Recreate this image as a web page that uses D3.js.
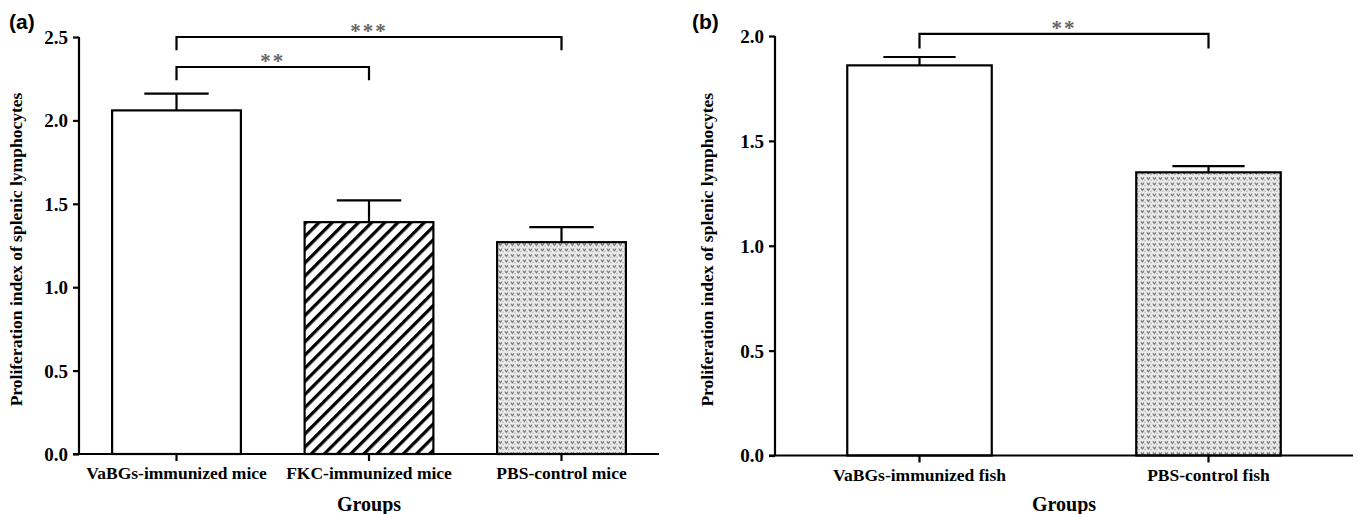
<!DOCTYPE html>
<html><head><meta charset="utf-8">
<script src="https://cdn.jsdelivr.net/npm/d3@7/dist/d3.min.js"></script>
<style>
body{margin:0;background:#fff;}
svg{display:block;}
</style></head>
<body>
<svg id="chart" width="1358" height="514"></svg>
<script>
// ---- data ----
const groupsA = ["VaBGs-immunized mice", "FKC-immunized mice", "PBS-control mice"];
const meansA  = [2.06, 1.39, 1.27];
const errorsA = [0.10, 0.13, 0.09];
const ticksA  = [0.0, 0.5, 1.0, 1.5, 2.0, 2.5];
const sigA    = [
  {from: 0, to: 2, level: 2.50, leg: 2.42, label: "***"},
  {from: 0, to: 1, level: 2.32, leg: 2.24, label: "**"}
];

const groupsB = ["VaBGs-immunized fish", "PBS-control fish"];
const meansB  = [1.86, 1.35];
const errorsB = [0.04, 0.03];
const ticksB  = [0.0, 0.5, 1.0, 1.5, 2.0];
const sigB    = [
  {from: 0, to: 1, level: 2.01, leg: 1.94, label: "**"}
];

const yTitle = "Proliferation index of splenic lymphocytes";
const xTitle = "Groups";

// ---- drawing ----
const SERIF = "'Liberation Serif','Times New Roman',serif";
const svg = d3.select("#chart");
const defs = svg.append("defs");

// diagonal hatch
const hatch = defs.append("pattern").attr("id", "hatch")
  .attr("patternUnits", "userSpaceOnUse").attr("width", 9.3).attr("height", 9.3)
  .attr("patternTransform", "rotate(45)");
hatch.append("rect").attr("width", 9.3).attr("height", 9.3).attr("fill", "#fff");
hatch.append("line").attr("x1", 1.6).attr("y1", -1).attr("x2", 1.6).attr("y2", 11)
  .attr("stroke", "#000").attr("stroke-width", 3.3);

// stipple
const dots = defs.append("pattern").attr("id", "dots")
  .attr("patternUnits", "userSpaceOnUse").attr("width", 6).attr("height", 5.5);
dots.append("rect").attr("width", 6).attr("height", 5.5).attr("fill", "#ececec");
dots.append("path").attr("d", "M0.8,1.2 L2.4,3.4 L4.0,1.2").attr("fill", "none")
  .attr("stroke", "#6a6a6a").attr("stroke-width", 1.1);
dots.append("rect").attr("x", 4.4).attr("y", 3.6).attr("width", 1.2).attr("height", 1.2).attr("fill", "#9a9a9a");

const fillFor = {"FKC-immunized mice": "url(#hatch)", "PBS-control mice": "url(#dots)", "PBS-control fish": "url(#dots)"};

function panel(cfg) {
  const {groups, means, errors, ticks, sig, x0, x1, y0, y1, yMax, padIn, padOut, label, labelX, yTitleX} = cfg;
  const g = svg.append("g");
  const x = d3.scaleBand().domain(groups).range([x0, x1]).paddingInner(padIn).paddingOuter(padOut);
  const y = d3.scaleLinear().domain([0, yMax]).range([y0, y1]);

  // bars
  g.selectAll("rect.bar").data(groups).enter().append("rect")
    .attr("x", d => x(d)).attr("width", x.bandwidth())
    .attr("y", (d, i) => y(means[i])).attr("height", (d, i) => y0 - y(means[i]))
    .attr("fill", d => fillFor[d] || "#fff")
    .attr("stroke", "#000").attr("stroke-width", 2.2);

  // error bars
  groups.forEach((d, i) => {
    const cx = x(d) + x.bandwidth() / 2;
    const hw = x.bandwidth() / 4;
    g.append("line").attr("x1", cx).attr("x2", cx).attr("y1", y(means[i])).attr("y2", y(means[i] + errors[i]))
      .attr("stroke", "#000").attr("stroke-width", 2.2);
    g.append("line").attr("x1", cx - hw).attr("x2", cx + hw).attr("y1", y(means[i] + errors[i])).attr("y2", y(means[i] + errors[i]))
      .attr("stroke", "#000").attr("stroke-width", 2.2);
  });

  // axes
  const ya = g.append("g").attr("transform", `translate(${x0},0)`)
    .call(d3.axisLeft(y).tickValues(ticks).tickFormat(d3.format(".1f")).tickSize(6).tickSizeOuter(0).tickPadding(5));
  ya.selectAll("text").style("font-family", SERIF).style("font-weight", "bold").style("font-size", "19px").attr("fill", "#000").attr("dy", "0.34em");
  const xa = g.append("g").attr("transform", `translate(0,${y0})`)
    .call(d3.axisBottom(x).tickSize(7).tickSizeOuter(0).tickPadding(6));
  xa.selectAll("text").style("font-family", SERIF).style("font-weight", "bold").style("font-size", "17.5px").attr("fill", "#000");
  g.selectAll(".domain, .tick line").attr("stroke", "#000").attr("stroke-width", 2.2);
  ya.select(".domain").attr("d", `M0,${y0}V${y1}`);
  xa.select(".domain").attr("d", `M${x0 - 6},0H${x1}`);

  // significance brackets
  sig.forEach(s => {
    const xa0 = x(groups[s.from]) + x.bandwidth() / 2;
    const xb0 = x(groups[s.to]) + x.bandwidth() / 2;
    g.append("path")
      .attr("d", `M${xa0},${y(s.leg)}V${y(s.level)}H${xb0}V${y(s.leg)}`)
      .attr("fill", "none").attr("stroke", "#000").attr("stroke-width", 2.2);
    g.append("text").attr("x", (xa0 + xb0) / 2).attr("y", y(s.level) + 1)
      .attr("text-anchor", "middle")
      .style("font-family", SERIF).style("font-size", "21px").style("font-weight", "bold")
      .style("letter-spacing", "2px")
      .attr("fill", "#666").text(s.label);
  });

  // titles
  g.append("text").attr("transform", `translate(${yTitleX},${(y0 + y1) / 2 + 4}) rotate(-90)`)
    .attr("text-anchor", "middle")
    .style("font-family", SERIF).style("font-size", "17.5px").style("font-weight", "bold")
    .text(yTitle);
  g.append("text").attr("x", (x0 + x1) / 2).attr("y", 511).attr("text-anchor", "middle")
    .style("font-family", SERIF).style("font-size", "20px").style("font-weight", "bold")
    .text(xTitle);
  g.append("text").attr("x", labelX).attr("y", 29)
    .style("font-family", "'Liberation Sans', Arial, sans-serif").style("font-size", "21px").style("font-weight", "bold")
    .text(label);
}

panel({groups: groupsA, means: meansA, errors: errorsA, ticks: ticksA, sig: sigA,
  x0: 79, x1: 659, y0: 454, y1: 37, yMax: 2.5, padIn: 0.331, padOut: 0.172,
  label: "(a)", labelX: 9, yTitleX: 22});
panel({groups: groupsB, means: meansB, errors: errorsB, ticks: ticksB, sig: sigB,
  x0: 775, x1: 1353, y0: 455.5, y1: 36, yMax: 2.0, padIn: 0.5, padOut: 0.25,
  label: "(b)", labelX: 692, yTitleX: 713});
</script>
</body></html>
